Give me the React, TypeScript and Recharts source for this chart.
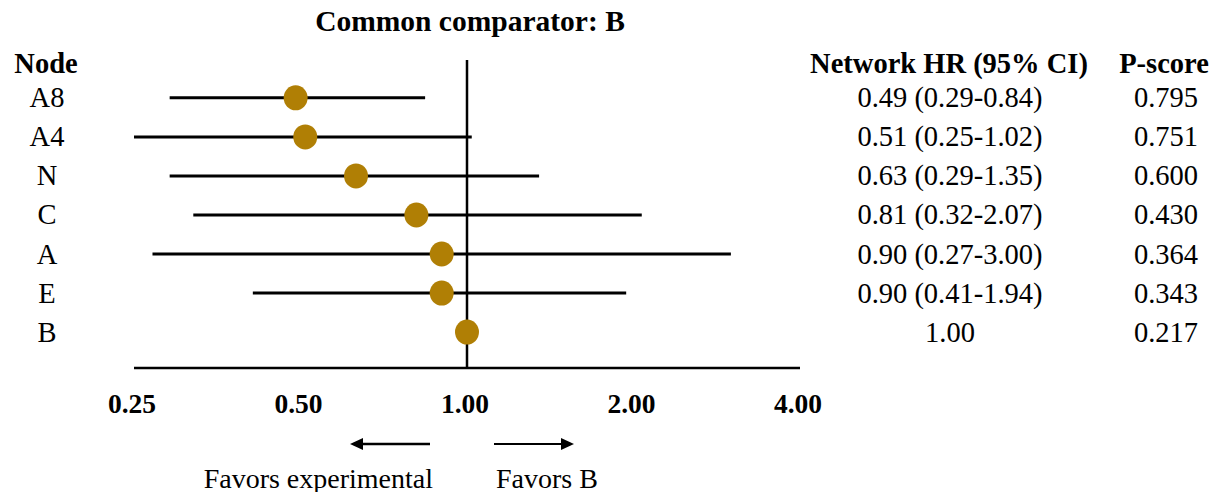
import React from 'react';
import { ScatterChart, Scatter, XAxis, YAxis, ErrorBar, ReferenceLine } from 'recharts';

const nodes = ['A8', 'A4', 'N', 'C', 'A', 'E', 'B'];
const hr = [0.49, 0.51, 0.63, 0.81, 0.9, 0.9, 1.0];
const ciLow = [0.29, 0.25, 0.29, 0.32, 0.27, 0.41, 1.0];
const ciHigh = [0.84, 1.02, 1.35, 2.07, 3.0, 1.94, 1.0];
const hrLabels = [
  '0.49 (0.29-0.84)',
  '0.51 (0.25-1.02)',
  '0.63 (0.29-1.35)',
  '0.81 (0.32-2.07)',
  '0.90 (0.27-3.00)',
  '0.90 (0.41-1.94)',
  '1.00',
];
const pScores = ['0.795', '0.751', '0.600', '0.430', '0.364', '0.343', '0.217'];
const xTicks = [0.25, 0.5, 1, 2, 4];
const title = 'Common comparator: B';
const headerNode = 'Node';
const headerHr = 'Network HR (95% CI)';
const headerP = 'P-score';
const favorsLeft = 'Favors experimental';
const favorsRight = 'Favors B';

const HEADER_ROW = -0.88;
const rowTicks = [HEADER_ROW, 0, 1, 2, 3, 4, 5, 6];

const data = nodes.map((n, i) => ({
  node: n,
  row: i,
  hr: hr[i],
  err: [hr[i] - ciLow[i], ciHigh[i] - hr[i]],
}));

const FONT = '"Liberation Serif", "Times New Roman", serif';
const GOLD = '#b07f05';
const FS = 28.5;

const LeftTick = (props: any) => {
  const { x, y, payload } = props;
  const v = payload.value;
  const isHeader = v === HEADER_ROW;
  const label = isHeader ? headerNode : nodes[v];
  return (
    <text
      x={x - (isHeader ? 88 : 87)}
      y={y}
      textAnchor="middle"
      dominantBaseline="central"
      fontFamily={FONT}
      fontSize={FS}
      fontWeight={isHeader ? 'bold' : 'normal'}
      fill="#000"
    >
      {label}
    </text>
  );
};

const RightTick = (props: any) => {
  const { x, y, payload } = props;
  const v = payload.value;
  const isHeader = v === HEADER_ROW;
  return (
    <g>
      <text
        x={x + (isHeader ? 149 : 150)}
        y={y}
        textAnchor="middle"
        dominantBaseline="central"
        fontFamily={FONT}
        fontSize={FS}
        fontWeight={isHeader ? 'bold' : 'normal'}
        fill="#000"
      >
        {isHeader ? headerHr : hrLabels[v]}
      </text>
      <text
        x={x + (isHeader ? 364 : 366)}
        y={y}
        textAnchor="middle"
        dominantBaseline="central"
        fontFamily={FONT}
        fontSize={FS}
        fontWeight={isHeader ? 'bold' : 'normal'}
        fill="#000"
      >
        {isHeader ? headerP : pScores[v]}
      </text>
    </g>
  );
};

const XTick = (props: any) => {
  const { x, y, payload } = props;
  return (
    <text
      x={x - 2}
      y={y}
      textAnchor="middle"
      dominantBaseline="central"
      fontFamily={FONT}
      fontSize={27.5}
      fontWeight="bold"
      fill="#000"
    >
      {Number(payload.value).toFixed(2)}
    </text>
  );
};

const FavorsLabel = (props: any) => {
  const vb = props.viewBox || {};
  const cx = vb.x + vb.width / 2;
  const top = vb.y;
  const ay = top + 76;
  const ty = top + 110;
  return (
    <g>
      <line x1={cx - 37} y1={ay} x2={cx - 106} y2={ay} stroke="#000" strokeWidth={2.5} />
      <polygon points={`${cx - 117},${ay} ${cx - 104},${ay - 6} ${cx - 104},${ay + 6}`} fill="#000" />
      <line x1={cx + 27} y1={ay} x2={cx + 96} y2={ay} stroke="#000" strokeWidth={2} />
      <polygon points={`${cx + 107},${ay} ${cx + 94},${ay - 6} ${cx + 94},${ay + 6}`} fill="#000" />
      <text
        x={cx - 34}
        y={ty}
        textAnchor="end"
        dominantBaseline="central"
        fontFamily={FONT}
        fontSize={28}
        fill="#000"
      >
        {favorsLeft}
      </text>
      <text x={cx + 29} y={ty} textAnchor="start" dominantBaseline="central" fontFamily={FONT} fontSize={28} fill="#000">
        {favorsRight}
      </text>
    </g>
  );
};

const Marker = (props: any) => {
  const { cx, cy } = props;
  return <ellipse cx={cx} cy={cy} rx={12} ry={12.5} fill={GOLD} />;
};

export default function App() {
  return (
    <div style={{ position: 'absolute', left: 0, top: 0, width: 1227, height: 492, background: '#fff', overflow: 'visible' }}>
      <ScatterChart width={1227} height={492} margin={{ top: 60, right: 0, bottom: 0, left: 0 }}>
        <XAxis
          type="number"
          dataKey="hr"
          scale="log"
          domain={[0.25, 4]}
          ticks={xTicks}
          allowDataOverflow
          height={124}
          axisLine={{ stroke: '#000', strokeWidth: 2.5 }}
          tickLine={false}
          tickSize={0}
          tickMargin={35}
          tick={<XTick />}
          label={<FavorsLabel />}
        />
        <YAxis
          yAxisId="left"
          type="number"
          dataKey="row"
          domain={[-0.97, 6.92]}
          reversed
          ticks={rowTicks}
          allowDataOverflow
          width={134}
          axisLine={false}
          tickLine={false}
          tickSize={0}
          tickMargin={0}
          tick={<LeftTick />}
          interval={0}
        />
        <YAxis
          yAxisId="right"
          orientation="right"
          type="number"
          domain={[-0.97, 6.92]}
          reversed
          ticks={rowTicks}
          allowDataOverflow
          width={427}
          axisLine={false}
          tickLine={false}
          tickSize={0}
          tickMargin={0}
          tick={<RightTick />}
          interval={0}
        />
        <ReferenceLine
          x={1}
          yAxisId="left"
          stroke="#000"
          strokeWidth={2.5}
          label={{
            value: title,
            position: 'top',
            offset: 29,
            dx: 3,
            fill: '#000',
            fontSize: 29.5,
            fontWeight: 'bold',
            fontFamily: FONT,
          }}
        />
        <Scatter data={data} yAxisId="left" shape={<Marker />} isAnimationActive={false}>
          <ErrorBar dataKey="err" direction="x" width={0} stroke="#000" strokeWidth={3} />
        </Scatter>
      </ScatterChart>
    </div>
  );
}
